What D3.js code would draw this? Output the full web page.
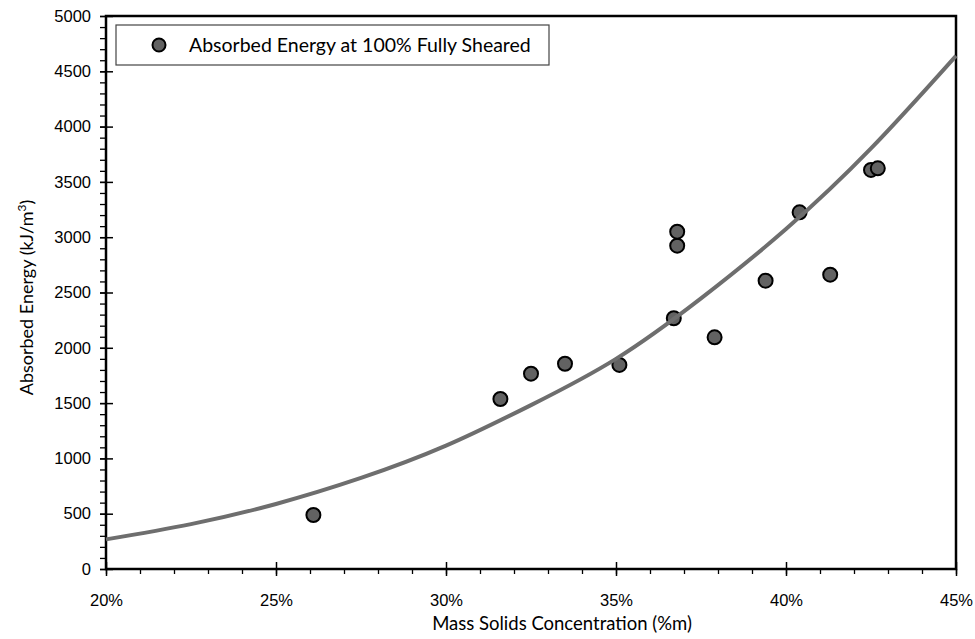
<!DOCTYPE html>
<html>
<head>
<meta charset="utf-8">
<style>
    body { margin: 0; background: #fff; }
    svg { display: block; font-family: Lato, 'Open Sans', sans-serif; }
    .tick text { font-size: 16.5px; fill: #000; }
</style>
</head>
<body>
<svg width="975" height="639"></svg>

<script src="https://d3js.org/d3.v7.min.js"></script>
<script>
// measured points (mass solids %, absorbed energy kJ/m3)
let solids = [26.1, 31.6, 32.5, 33.5, 35.1, 36.7, 36.8, 36.8, 37.9, 39.4, 40.4, 41.3, 42.5, 42.7]
let energy = [488, 1537, 1766, 1856, 1845, 2267, 2923, 3050, 2095, 2607, 3225, 2661, 3608, 3623]

// trend line
let trendX = [20, 22.5, 25, 27.5, 30, 32.5, 35, 37.5, 40, 42.5, 45]
let trendY = [268, 406, 588, 823, 1115, 1482, 1900, 2447, 3074, 3803, 4640]

let xTicks = [20, 25, 30, 35, 40, 45]
let yTicks = [0, 500, 1000, 1500, 2000, 2500, 3000, 3500, 4000, 4500, 5000]

let legendLabel = "Absorbed Energy at 100% Fully Sheared"

let svg = d3.select("svg")
let margin = { top: 16, right: 19, bottom: 70, left: 106 }
let width = 975 - margin.left - margin.right
let height = 639 - margin.top - margin.bottom

let x = d3.scaleLinear().domain([20, 45]).range([0, width])
let y = d3.scaleLinear().domain([0, 5000]).range([height, 0])

let g = svg.append("g").attr("transform", `translate(${margin.left},${margin.top})`)

// minor ticks
g.append("g")
    .call(d3.axisLeft(y).tickValues(d3.range(0, 5001, 100)).tickSize(6).tickFormat(""))
    .call(a => a.select(".domain").remove())
    .selectAll("line").attr("stroke", "#000").attr("stroke-width", 1.3)

g.append("g")
    .attr("transform", `translate(0,${height})`)
    .call(d3.axisBottom(x).tickValues(d3.range(20, 45.01, 1)).tickSize(5).tickFormat(""))
    .call(a => a.select(".domain").remove())
    .selectAll("line").attr("stroke", "#000").attr("stroke-width", 1.3)

// major ticks + labels
let yAxis = g.append("g")
    .call(d3.axisLeft(y).tickValues(yTicks).tickSizeInner(6).tickSizeOuter(0).tickPadding(9)
        .tickFormat(d3.format("d")))
yAxis.select(".domain").remove()
yAxis.selectAll(".tick line").attr("x2", 7).attr("x1", -6).attr("stroke", "#000").attr("stroke-width", 1.5)

let xAxis = g.append("g")
    .attr("transform", `translate(0,${height})`)
    .call(d3.axisBottom(x).tickValues(xTicks).tickSizeInner(7).tickSizeOuter(0).tickPadding(18)
        .tickFormat(d => d + "%"))
xAxis.select(".domain").remove()
xAxis.selectAll(".tick line").attr("y1", -7).attr("y2", 7).attr("stroke", "#000").attr("stroke-width", 1.5)

// plot frame
g.append("rect")
    .attr("width", width)
    .attr("height", height)
    .attr("fill", "none")
    .attr("stroke", "#000")
    .attr("stroke-width", 2.5)

// points
g.append("g")
    .selectAll("circle")
    .data(solids.map((s, i) => [s, energy[i]]))
    .join("circle")
    .attr("cx", d => x(d[0]))
    .attr("cy", d => y(d[1]))
    .attr("r", 7)
    .attr("fill", "#626262")
    .attr("stroke", "#000")
    .attr("stroke-width", 2)

// trend line (drawn on top of the points)
let line = d3.line()
    .x(d => x(d[0]))
    .y(d => y(d[1]))
    .curve(d3.curveNatural)

g.append("path")
    .datum(trendX.map((t, i) => [t, trendY[i]]))
    .attr("d", line)
    .attr("fill", "none")
    .attr("stroke", "#6e6e6e")
    .attr("stroke-width", 4)

// legend
let legend = g.append("g").attr("transform", "translate(10,9)")
legend.append("rect")
    .attr("width", 433)
    .attr("height", 40)
    .attr("fill", "#fff")
    .attr("stroke", "#444")
    .attr("stroke-width", 1.2)
legend.append("circle")
    .attr("cx", 43)
    .attr("cy", 20)
    .attr("r", 6.5)
    .attr("fill", "#626262")
    .attr("stroke", "#000")
    .attr("stroke-width", 2)
legend.append("text")
    .attr("x", 73)
    .attr("y", 26.5)
    .attr("font-size", 19.5)
    .text(legendLabel)

// axis titles
svg.append("text")
    .attr("x", 562)
    .attr("y", 630)
    .attr("text-anchor", "middle")
    .attr("font-size", 18.5)
    .text("Mass Solids Concentration (%m)")

let yTitle = svg.append("text")
    .attr("transform", `translate(33,${margin.top + height / 2 + 5}) rotate(-90)`)
    .attr("text-anchor", "middle")
    .attr("font-size", 18)
yTitle.append("tspan").text("Absorbed Energy (kJ/m")
yTitle.append("tspan").attr("font-size", 12).attr("dy", -7).text("3")
yTitle.append("tspan").attr("dy", 7).text(")")
</script>
</body>
</html>
